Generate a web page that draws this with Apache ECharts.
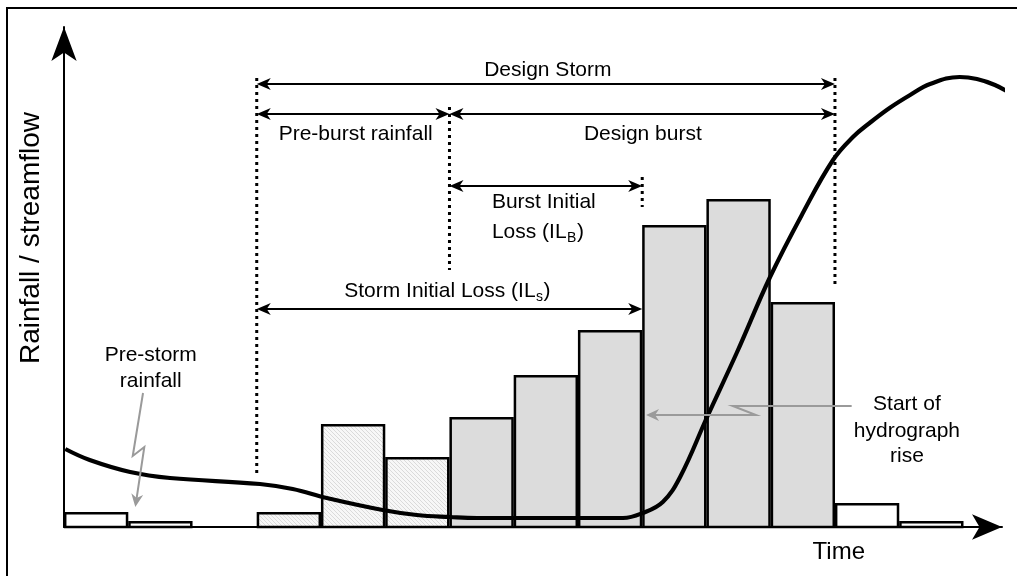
<!DOCTYPE html>
<html><head><meta charset="utf-8">
<script src="https://cdn.jsdelivr.net/npm/echarts@6/dist/echarts.min.js"></script>
<style>html,body{margin:0;padding:0;background:#fff}#c{width:1017px;height:576px}</style>
</head><body><div id="c"></div>
<script>
// ---- data ----
const timeSteps = [0, 1, 2, 3, 4, 5, 6, 7, 8, 9, 10, 11, 12, 13];
const rainfall = [3.0, 1.2, 0, 3.0, 20.6, 14.0, 22.0, 30.4, 39.4, 60.4, 65.6, 45.0, 4.8, 1.2];
const rainfallType = ['pre-storm', 'pre-storm', 'none', 'pre-burst', 'pre-burst', 'pre-burst',
  'burst', 'burst', 'burst', 'burst', 'burst', 'burst', 'post-storm', 'post-storm'];
const hydroTime = [0.02, 0.40, 1.03, 1.65, 3.05, 3.56, 4.09, 4.96, 5.49, 6.01, 6.43, 8.70, 9.01, 9.32, 9.59,
  10.01, 10.47, 10.99, 11.50, 11.97, 12.28, 12.54, 12.85, 13.17, 13.48, 13.94, 14.21, 14.49, 14.72];
const hydroFlow = [15.6, 13.4, 11.0, 9.8, 8.6, 7.6, 5.8, 3.4, 2.4, 2.0, 1.8, 1.8, 2.8, 5.0, 10.0,
  22.0, 34.8, 50.0, 62.8, 73.4, 78.0, 80.8, 83.8, 86.4, 88.6, 90.0, 89.6, 88.4, 86.8];
// storm timing (time-step boundaries)
const stormStart = 3, burstStart = 6, burstLossEnd = 9, stormEnd = 12;

// ---- styles ----
const FONT = '"Liberation Sans", Arial, sans-serif';
const hatch = document.createElement('canvas');
hatch.width = 4; hatch.height = 4;
(function () {
  const g = hatch.getContext('2d');
  g.fillStyle = '#f7f7f7'; g.fillRect(0, 0, 4, 4);
  g.strokeStyle = '#dadada'; g.lineWidth = 1;
  g.beginPath(); g.moveTo(0, 0); g.lineTo(4, 4); g.moveTo(-1, 3); g.lineTo(1, 5); g.moveTo(3, -1); g.lineTo(5, 1); g.stroke();
})();
const fills = {
  'pre-storm': '#ffffff', 'post-storm': '#ffffff',
  'pre-burst': { image: hatch, repeat: 'repeat' },
  'burst': '#dcdcdc'
};

const barData = timeSteps.map((t, i) => [t, rainfall[i], i]);
const hydroData = hydroTime.map((t, i) => [t, hydroFlow[i]]);

const measureCtx = document.createElement('canvas').getContext('2d');
function textWidth(text, size) { measureCtx.font = size + 'px ' + FONT; return measureCtx.measureText(text).width; }

function arrowHead(tip, dir, color, L, W, N) {
  L = L || 14; W = W || 6; N = N || 4;
  const nx = -dir[1], ny = dir[0];
  return {
    type: 'polygon',
    shape: { points: [
      [tip[0], tip[1]],
      [tip[0] - dir[0] * L + nx * W, tip[1] - dir[1] * L + ny * W],
      [tip[0] - dir[0] * (L - N), tip[1] - dir[1] * (L - N)],
      [tip[0] - dir[0] * L - nx * W, tip[1] - dir[1] * L - ny * W]
    ] },
    style: { fill: color, stroke: null }
  };
}
function doubleArrow(api, x0, x1, y) {
  const a = api.coord([x0, y]), b = api.coord([x1, y]);
  return [
    { type: 'line', shape: { x1: a[0] + 8, y1: a[1], x2: b[0] - 8, y2: b[1] }, style: { stroke: '#000', lineWidth: 2 } },
    arrowHead(a, [-1, 0], '#000'),
    arrowHead(b, [1, 0], '#000')
  ];
}
function dotted(api, x, y0, y1) {
  const a = api.coord([x, y0]), b = api.coord([x, y1]);
  return { type: 'line', shape: { x1: a[0], y1: a[1], x2: b[0], y2: b[1] },
    style: { stroke: '#000', lineWidth: 3, lineDash: [3, 4], lineCap: 'butt' } };
}
function txt(px, py, text, size, align) {
  return { type: 'text', style: { text: text, x: px, y: py, fill: '#000', font: size + 'px ' + FONT,
    align: align, verticalAlign: 'middle' } };
}
function label(api, x, y, text, size, align) {
  const p = api.coord([x, y]);
  return txt(p[0], p[1], text, size || 21, align || 'center');
}
// text with a subscript: parts = [main, sub, tail]
function subLabel(api, x, y, parts, align) {
  const p = api.coord([x, y]);
  const w0 = textWidth(parts[0], 21), w1 = textWidth(parts[1], 14), w2 = textWidth(parts[2], 21);
  let x0 = align === 'left' ? p[0] : p[0] - (w0 + w1 + w2) / 2;
  return [
    txt(x0, p[1], parts[0], 21, 'left'),
    txt(x0 + w0 + 0.5, p[1] + 6.5, parts[1], 14, 'left'),
    txt(x0 + w0 + w1 + 1, p[1], parts[2], 21, 'left')
  ];
}
function greyArrow(api, pts) {
  const px = pts.map(p => api.coord(p));
  const n = px.length;
  const dx = px[n - 1][0] - px[n - 2][0], dy = px[n - 1][1] - px[n - 2][1];
  const len = Math.hypot(dx, dy);
  const dir = [dx / len, dy / len];
  const linePts = px.slice(0, n - 1).concat([[px[n - 1][0] - dir[0] * 8, px[n - 1][1] - dir[1] * 8]]);
  return [
    { type: 'polyline', shape: { points: linePts }, style: { stroke: '#9a9a9a', lineWidth: 2, fill: null } },
    arrowHead(px[n - 1], dir, '#9a9a9a', 13, 6, 4)
  ];
}

const chart = echarts.init(document.getElementById('c'), null, { renderer: 'canvas' });
chart.setOption({
  animation: false,
  backgroundColor: '#fff',
  grid: { left: 64, right: 15, top: 27, bottom: 49 },
  xAxis: {
    type: 'value', min: 0, max: 14.6,
    axisLine: { show: true, onZero: false, lineStyle: { color: '#000', width: 2 }, symbol: ['none', 'arrow'], symbolSize: [19, 30] },
    axisTick: { show: false }, axisLabel: { show: false }, splitLine: { show: false }
  },
  yAxis: {
    type: 'value', min: 0, max: 100,
    axisLine: { show: true, onZero: false, lineStyle: { color: '#000', width: 2 }, symbol: ['none', 'arrow'], symbolSize: [19, 34] },
    axisTick: { show: false }, axisLabel: { show: false }, splitLine: { show: false }
  },
  graphic: [{ type: 'rect', shape: { x: 7, y: 8, width: 1030, height: 590 }, style: { fill: null, stroke: '#000', lineWidth: 2 }, z: 100 }],
  series: [
    {
      type: 'custom', name: 'Rainfall', data: barData, z: 2,
      renderItem: function (params, api) {
        const t = api.value(0), v = api.value(1), idx = api.value(2);
        if (!v) return null;
        const p0 = api.coord([t, 0]), p1 = api.coord([t + 1, v]);
        return {
          type: 'rect',
          shape: { x: p0[0] + 1.2, y: p1[1] + 1.2, width: p1[0] - p0[0] - 2.4, height: p0[1] - p1[1] - 1.2 },
          style: { fill: fills[rainfallType[idx]], stroke: '#000', lineWidth: 2.5 }
        };
      }
    },
    {
      type: 'line', name: 'Streamflow', data: hydroData, smooth: 0.4, showSymbol: false, clip: false, z: 3,
      lineStyle: { color: '#000', width: 4.2 }
    },
    {
      type: 'custom', name: 'Annotations', data: [[0, 0]], z: 4, clip: false,
      renderItem: function (params, api) {
        let ch = [];
        ch.push(dotted(api, stormStart, 89.8, 10.0));
        ch.push(dotted(api, burstStart, 84.0, 51.4));
        ch.push(dotted(api, burstLossEnd, 70.0, 64.0));
        ch.push(dotted(api, stormEnd, 89.8, 48.0));
        ch = ch.concat(doubleArrow(api, stormStart, stormEnd, 88.6));
        ch = ch.concat(doubleArrow(api, stormStart, burstStart, 82.6));
        ch = ch.concat(doubleArrow(api, burstStart, stormEnd, 82.6));
        ch = ch.concat(doubleArrow(api, burstStart, burstLossEnd, 68.2));
        ch = ch.concat(doubleArrow(api, stormStart, burstLossEnd, 43.6));
        ch.push(label(api, 7.53, 91.4, 'Design Storm'));
        ch.push(label(api, 4.54, 78.6, 'Pre-burst rainfall'));
        ch.push(label(api, 9.01, 78.6, 'Design burst'));
        ch.push(label(api, 6.66, 65.0, 'Burst Initial', 21, 'left'));
        ch = ch.concat(subLabel(api, 6.66, 59.0, ['Loss (IL', 'B', ')'], 'left'));
        ch = ch.concat(subLabel(api, 5.96, 47.2, ['Storm Initial Loss (IL', 's', ')'], 'center'));
        ch.push(label(api, 1.35, 34.4, 'Pre-storm'));
        ch.push(label(api, 1.35, 29.2, 'rainfall'));
        ch.push(label(api, 13.12, 24.6, 'Start of'));
        ch.push(label(api, 13.12, 19.2, 'hydrograph'));
        ch.push(label(api, 13.12, 14.2, 'rise'));
        ch.push(label(api, 12.06, -5.0, 'Time', 24));
        const yl = api.coord([-0.51, 57.8]);
        ch.push({ type: 'text', x: yl[0], y: yl[1], rotation: Math.PI / 2,
          style: { text: 'Rainfall / streamflow', x: 0, y: 0, fill: '#000', font: '28px ' + FONT, align: 'center', verticalAlign: 'middle' } });
        ch = ch.concat(greyArrow(api, [[1.23, 26.8], [1.07, 14.2], [1.25, 16.0], [1.11, 4.0]]));
        ch = ch.concat(greyArrow(api, [[12.26, 24.2], [10.41, 24.2], [10.77, 22.4], [9.06, 22.4]]));
        return { type: 'group', children: ch };
      }
    }
  ]
});
</script>
</body></html>
